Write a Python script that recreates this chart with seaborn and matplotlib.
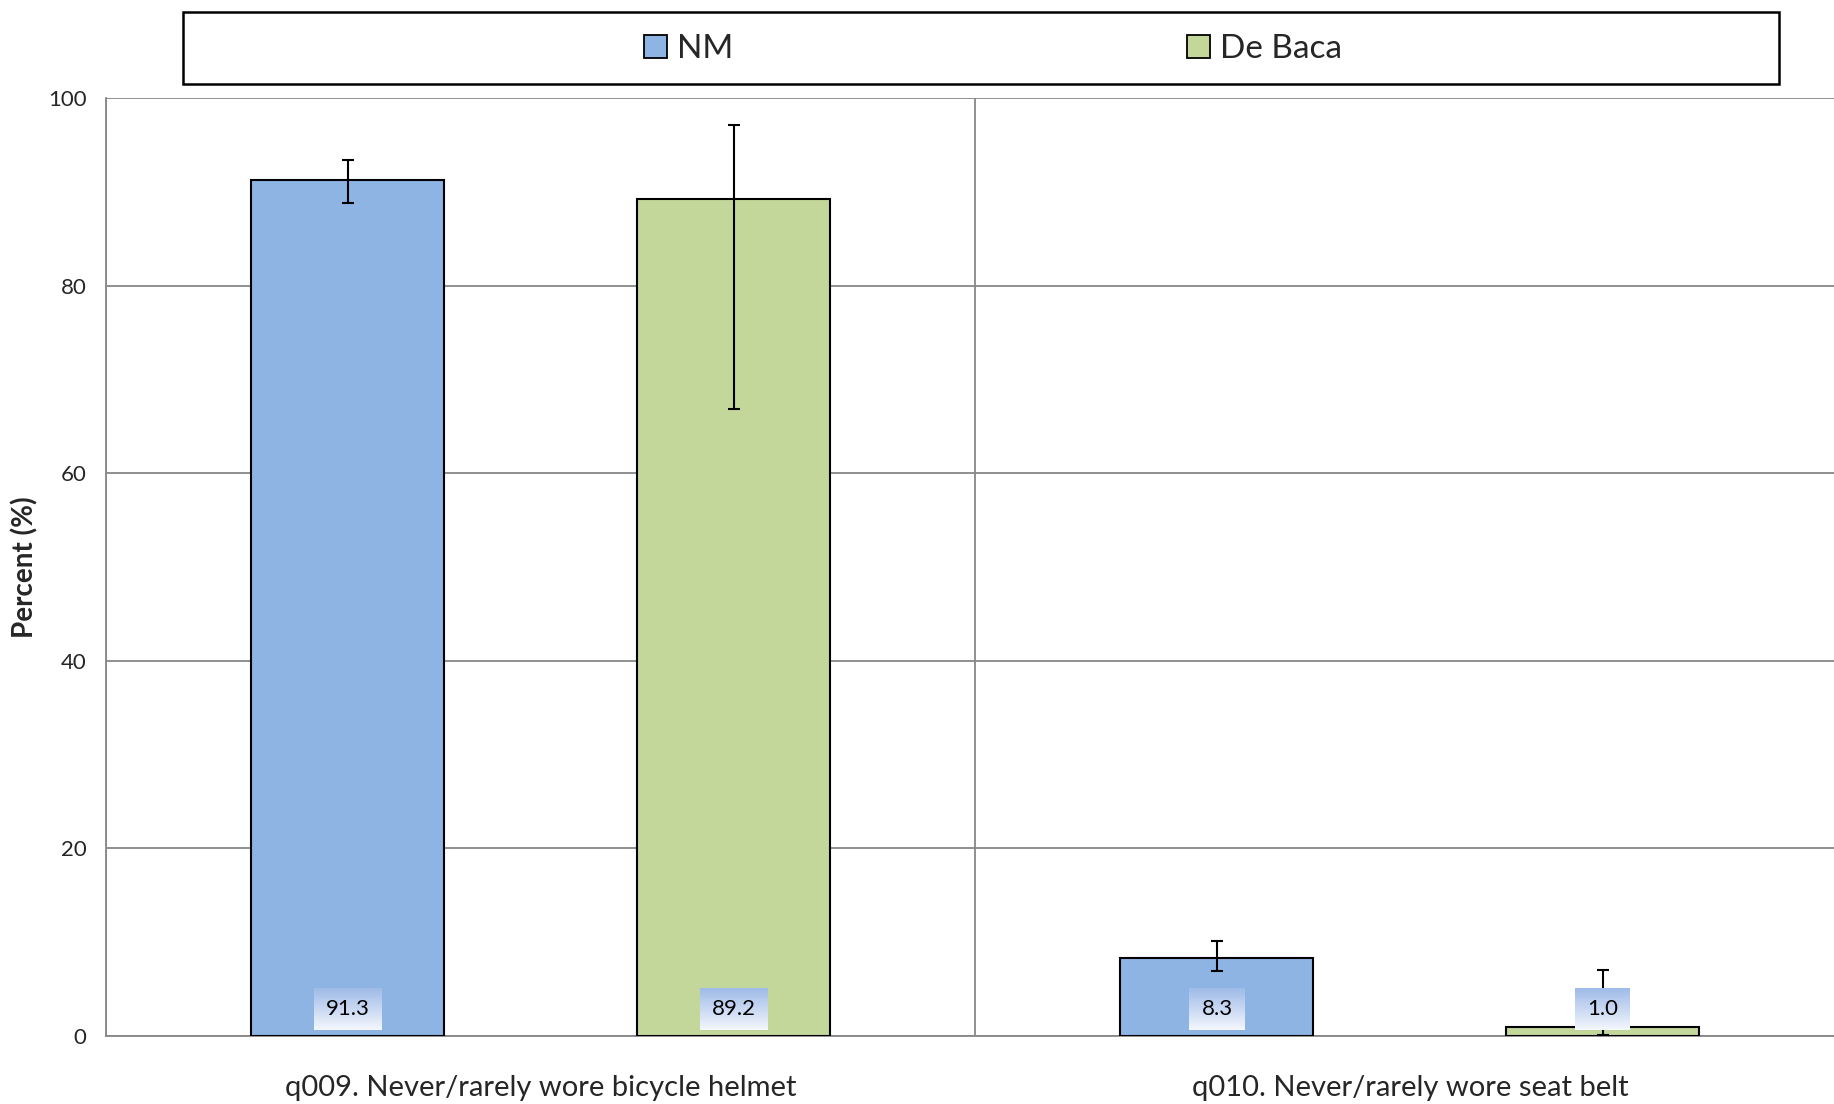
import numpy as np
import pandas as pd
import matplotlib
matplotlib.use("Agg")
import matplotlib.pyplot as plt
from matplotlib.colors import LinearSegmentedColormap
from matplotlib.patches import Rectangle
import seaborn as sns

# --- data ---
questions = ["q009. Never/rarely wore bicycle helmet", "q010. Never/rarely wore seat belt"]
groups = ["NM", "De Baca"]
nm_values = [91.3, 8.3]
debaca_values = [89.2, 1.0]
nm_lower = [88.8, 6.9]
nm_upper = [93.4, 10.1]
debaca_lower = [66.8, 0.1]
debaca_upper = [97.1, 7.0]
colors = ["#8EB4E3", "#C4D79B"]

df = pd.DataFrame({
    "question": questions * 2,
    "group": [groups[0]] * 2 + [groups[1]] * 2,
    "value": nm_values + debaca_values,
    "lower": nm_lower + debaca_lower,
    "upper": nm_upper + debaca_upper,
})

sns.set_style("white")
plt.rcParams["font.family"] = ["Lato", "DejaVu Sans"]
GRID = "#878787"

fig = plt.figure(figsize=(18.34, 11.04), dpi=100)
ax = fig.add_axes([0.0578, 0.0616, 0.948, 0.8496])

sns.barplot(data=df, x="question", y="value", hue="group", hue_order=groups,
            palette=colors, saturation=1, width=0.888, gap=0.5, edgecolor="black",
            linewidth=1.5, errorbar=None, legend=False, ax=ax, zorder=3)

# error bars + value labels, positioned from the drawn bars
bars = ax.patches
texts = []
for bar, (_, row) in zip(bars, df.iterrows()):
    xc = bar.get_x() + bar.get_width() / 2
    v = row["value"]
    ax.errorbar(xc, v, yerr=[[v - row["lower"]], [row["upper"] - v]], fmt="none",
                ecolor="black", elinewidth=1.5, capsize=4.5, capthick=1.5, zorder=4)
    t = ax.text(xc, 2.9, f"{v:.1f}", ha="center", va="center", fontsize=16,
                color="black", zorder=6)
    texts.append(t)

# axes styling
ax.set_xlim(-0.5, 1.5)
ax.set_ylim(0, 100)
ax.set_yticks(np.arange(0, 101, 20))
ax.set_xticks([-0.5, 0.5, 1.5], minor=True)
ax.set_axisbelow(True)
ax.yaxis.grid(True, color=GRID, linewidth=1.3)
ax.xaxis.grid(True, which="minor", color=GRID, linewidth=1.3)
ax.xaxis.grid(False, which="major")
for s in ["top", "right"]:
    ax.spines[s].set_visible(False)
for s in ["left", "bottom"]:
    ax.spines[s].set_color(GRID)
    ax.spines[s].set_linewidth(1.3)
ax.tick_params(axis="x", which="major", length=0, pad=28, labelsize=21)
ax.tick_params(axis="x", which="minor", length=8, width=1.3, color=GRID, direction="out")
ax.tick_params(axis="y", length=6, width=1.3, color=GRID, direction="out", labelsize=16, pad=8)
ax.set_xlabel("")
ax.set_ylabel("Percent (%)", fontsize=20, fontweight="bold")
ax.yaxis.set_label_coords(-0.039, 0.5)

# gradient boxes behind the value labels
cmap = LinearSegmentedColormap.from_list("lab", ["#9fbbe8", "#f4f7fd"])
fig.canvas.draw()
renderer = fig.canvas.get_renderer()
inv = ax.transData.inverted()
grad = np.linspace(0, 1, 64).reshape(-1, 1)
for t in texts:
    bb = t.get_window_extent(renderer)
    (x0, y0) = inv.transform((bb.x0 - 12, bb.y0 - 11))
    (x1, y1) = inv.transform((bb.x1 + 12, bb.y1 + 11))
    ax.imshow(grad, extent=[x0, x1, y0, y1], cmap=cmap, aspect="auto", zorder=5)
ax.set_xlim(-0.5, 1.5)
ax.set_ylim(0, 100)

# legend in a framed box across the top
handles = [Rectangle((0, 0), 1, 1, facecolor=c, edgecolor="black", linewidth=1.3) for c in colors]
fig.legend(handles, groups, loc="center", bbox_to_anchor=(0.5415, 0.9555), ncol=2,
           frameon=False, fontsize=24, columnspacing=13.6, handlelength=0.7,
           handleheight=0.7, handletextpad=0.3)
fig.add_artist(Rectangle((0.100, 0.924), 0.870, 0.065, transform=fig.transFigure,
                         fill=False, edgecolor="black", linewidth=1.8))

fig.savefig("out.png", dpi=100)
